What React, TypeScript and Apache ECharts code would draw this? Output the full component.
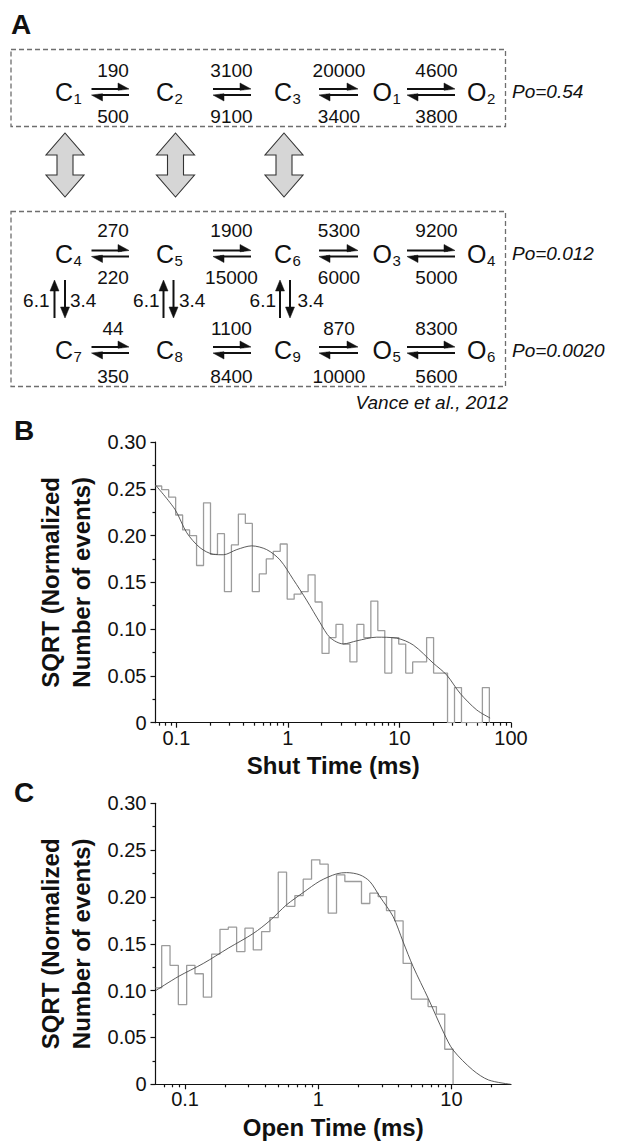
import React, { useEffect, useRef } from 'react';
import * as echarts from 'echarts';

const FONT = '"Liberation Sans", Arial, Helvetica, sans-serif';

// ---------- Panel A: kinetic scheme ----------
const topStates = [['C', '1'], ['C', '2'], ['C', '3'], ['O', '1'], ['O', '2']];
const topFwd = ['190', '3100', '20000', '4600'];
const topBack = ['500', '9100', '3400', '3800'];
const midStates = [['C', '4'], ['C', '5'], ['C', '6'], ['O', '3'], ['O', '4']];
const midFwd = ['270', '1900', '5300', '9200'];
const midBack = ['220', '15000', '6000', '5000'];
const lowStates = [['C', '7'], ['C', '8'], ['C', '9'], ['O', '5'], ['O', '6']];
const lowFwd = ['44', '1100', '870', '8300'];
const lowBack = ['350', '8400', '10000', '5600'];
const vertUp = ['6.1', '6.1', '6.1'];
const vertDown = ['3.4', '3.4', '3.4'];
const poLabels = ['Po=0.54', 'Po=0.012', 'Po=0.0020'];
const citation = 'Vance et al., 2012';

// ---------- Panel B: shut times ----------
const shutRange = [0.065, 100];
const shutTicks = [0.1, 1, 10, 100];
const shutMinor = [0.07, 0.08, 0.09, 0.2, 0.3, 0.4, 0.5, 0.6, 0.7, 0.8, 0.9, 2, 3, 4, 5, 6, 7, 8, 9, 20, 30, 40, 50, 60, 70, 80, 90];
const shutBinStartLog = -1.1315;
const BINS_PER_DECADE = 16;
const shutHeights = [
  0.253, 0.249, 0.241, 0.222, 0.206, 0.2, 0.168, 0.235, 0.18, 0.202,
  0.14, 0.19, 0.223, 0.213, 0.14, 0.159, 0.175, 0.183, 0.191, 0.132,
  0.1375, 0.14, 0.158, 0.129, 0.074, 0.091, 0.105, 0.084, 0.065, 0.105,
  0.091, 0.13, 0.0985, 0.053, 0.091, 0.084, 0.053, 0.065, 0.065, 0.091,
  0.053, 0.053, 0, 0.0375, 0, 0, 0, 0.0375,
];
const shutFit = [
  [0.065, 0.254], [0.0971, 0.228], [0.124, 0.203], [0.163, 0.187], [0.214, 0.18],
  [0.264, 0.1795], [0.348, 0.185], [0.473, 0.189], [0.645, 0.185], [0.849, 0.174],
  [1.118, 0.153], [1.47, 0.131], [1.94, 0.107], [2.385, 0.091], [3.14, 0.0842],
  [4.14, 0.0875], [6.25, 0.0914], [9.46, 0.0903], [13.3, 0.083], [20.1, 0.0636],
  [26.5, 0.051], [34.9, 0.0315], [49.3, 0.0136], [65, 0.005],
];

// ---------- Panel C: open times ----------
const openRange = [0.06, 28];
const openTicks = [0.1, 1, 10];
const openMinor = [0.07, 0.08, 0.09, 0.2, 0.3, 0.4, 0.5, 0.6, 0.7, 0.8, 0.9, 2, 3, 4, 5, 6, 7, 8, 9, 20];
const openBinStartLog = -1.1753;
const openHeights = [
  0.103, 0.148, 0.127, 0.085, 0.127, 0.118, 0.093, 0.139, 0.1655, 0.1677,
  0.1417, 0.1667, 0.1435, 0.163, 0.178, 0.2265, 0.19, 0.2015, 0.219, 0.2396,
  0.235, 0.1827, 0.2236, 0.2165, 0.2165, 0.193, 0.204, 0.2004, 0.1855, 0.1745,
  0.129, 0.091, 0.091, 0.083, 0.075, 0.0374,
];
const openFit = [
  [0.0602, 0.1], [0.0889, 0.115], [0.137, 0.129], [0.211, 0.1453], [0.325, 0.161],
  [0.434, 0.1748], [0.578, 0.1916], [0.771, 0.2047], [1.029, 0.217], [1.373, 0.2247],
  [1.632, 0.226], [2.053, 0.2236], [2.44, 0.2165], [2.9, 0.2004], [3.65, 0.179],
  [4.34, 0.152], [5.16, 0.1256], [6.68, 0.092], [8.79, 0.0545], [10.29, 0.0366],
  [14.45, 0.0153], [19.0, 0.0046], [27.9, 0.0],
];

const yTickValues = [0, 0.05, 0.1, 0.15, 0.2, 0.25, 0.3];

const lg = (v: number) => Math.log10(v);

function histPoints(startLog: number, heights: number[], minLog: number) {
  const pts: number[][] = [];
  heights.forEach((h, i) => {
    const left = i === 0 ? minLog : startLog + (i - 1) / BINS_PER_DECADE;
    const right = startLog + i / BINS_PER_DECADE;
    pts.push([left, h]);
    pts.push([right, h]);
  });
  const last = startLog + (heights.length - 1) / BINS_PER_DECADE;
  pts.push([last, 0]);
  return pts;
}

// ---------- graphic helpers ----------
function txt(text: string, x: number, y: number, o: any = {}) {
  const align = o.align || 'center';
  const va = o.va || 'middle';
  return {
    type: 'text', x, y, silent: true, z: 10,
    style: {
      text, fill: o.color || '#111',
      fontSize: o.size || 19, fontFamily: FONT,
      fontWeight: o.weight || 'normal', fontStyle: o.italic ? 'italic' : 'normal',
      align, verticalAlign: va, textAlign: align, textVerticalAlign: va,
    },
  };
}
const INK = '#111';
function seg(x1: number, y1: number, x2: number, y2: number, w = 2) {
  return { type: 'line', silent: true, z: 10, shape: { x1, y1, x2, y2 }, style: { stroke: INK, lineWidth: w } };
}
function tri(points: number[][]) {
  return { type: 'polygon', silent: true, z: 10, shape: { points }, style: { fill: INK, stroke: INK, lineWidth: 0.5 } };
}

const stateX = [55, 156, 274, 372.5, 467];
const arrowSpans = [[91.5, 129], [213, 251], [319, 358], [407, 455]];
const rateX = [113, 231.5, 339, 436.5];
const letterW: Record<string, number> = { C: 18, O: 19.5 };

function schemeRow(states: string[][], fwd: string[], back: string[], above: number, mid: number, below: number) {
  const els: any[] = [];
  states.forEach(([l, s], i) => {
    els.push(txt(l, stateX[i], mid, { size: 25, align: 'left' }));
    els.push(txt(s, stateX[i] + letterW[l] + 0.5, mid + 6.5, { size: 15, align: 'left' }));
  });
  arrowSpans.forEach(([x1, x2], i) => {
    const yt = mid - 3;
    const yb = mid + 3;
    els.push(seg(x1, yt, x2 - 7, yt));
    els.push(tri([[x2, yt], [x2 - 11, yt - 6], [x2 - 11, yt + 1.3]]));
    els.push(seg(x1 + 7, yb, x2, yb));
    els.push(tri([[x1, yb], [x1 + 11, yb + 6], [x1 + 11, yb - 1.3]]));
    els.push(txt(fwd[i], rateX[i], above));
    els.push(txt(back[i], rateX[i], below));
  });
  return els;
}

function buildGraphic() {
  const els: any[] = [];
  // panel letters
  els.push(txt('A', 11, 24, { size: 28, weight: 'bold', align: 'left' }));
  els.push(txt('B', 14, 430, { size: 28, weight: 'bold', align: 'left' }));
  els.push(txt('C', 14, 792, { size: 28, weight: 'bold', align: 'left' }));
  // dashed boxes
  const dash = { fill: 'none', stroke: '#6e6e6e', lineWidth: 1.3, lineDash: [5, 3] };
  els.push({ type: 'rect', silent: true, shape: { x: 11, y: 49.5, width: 494.5, height: 77 }, style: dash });
  els.push({ type: 'rect', silent: true, shape: { x: 11, y: 211.5, width: 494.5, height: 175 }, style: dash });
  // scheme rows
  els.push(...schemeRow(topStates, topFwd, topBack, 70, 92, 116.5));
  els.push(...schemeRow(midStates, midFwd, midBack, 230, 253.5, 277));
  els.push(...schemeRow(lowStates, lowFwd, lowBack, 328, 350, 376.5));
  // vertical transitions
  const upX = [54.5, 163.5, 280];
  const downX = [65, 173.5, 290];
  const leftTxt = [49.5, 159.5, 276];
  const rightTxt = [70, 179, 297.5];
  upX.forEach((ux, i) => {
    const dx = downX[i];
    els.push(seg(ux, 289, ux, 318));
    els.push(tri([[ux, 280], [ux - 4.5, 291], [ux + 4.5, 291]]));
    els.push(seg(dx, 280, dx, 309));
    els.push(tri([[dx, 318], [dx - 4.5, 307], [dx + 4.5, 307]]));
    els.push(txt(vertUp[i], leftTxt[i], 300.5, { align: 'right' }));
    els.push(txt(vertDown[i], rightTxt[i], 300.5, { align: 'left' }));
  });
  // Po labels
  els.push(txt(poLabels[0], 512, 91, { italic: true, align: 'left' }));
  els.push(txt(poLabels[1], 512, 253.5, { italic: true, align: 'left' }));
  els.push(txt(poLabels[2], 512, 350, { italic: true, align: 'left' }));
  els.push(txt(citation, 508, 402, { italic: true, align: 'right' }));
  // big grey double arrows between the two boxes
  [65, 175.5, 284].forEach((cx) => {
    const t = 133, hb = 155, sb = 175, b = 197, hw = 19, sw = 8;
    els.push({
      type: 'polygon', silent: true, z: 9,
      shape: {
        points: [[cx, t], [cx + hw, hb], [cx + sw, hb], [cx + sw, sb], [cx + hw, sb], [cx, b],
          [cx - hw, sb], [cx - sw, sb], [cx - sw, hb], [cx - hw, hb]],
      },
      style: { fill: '#d6d6d6', stroke: '#333', lineWidth: 1.1 },
    });
  });
  return els;
}

// ---------- axes ----------
const axisLineStyle = { color: '#111', width: 1.2 };
const fmtPow = (v: number) => String(parseFloat(Math.pow(10, v).toPrecision(3)));

function majorX(grid: number, range: number[], ticks: number[], name: string) {
  const vals = ticks.map(lg);
  return {
    type: 'value', gridIndex: grid, position: 'bottom', min: lg(range[0]), max: lg(range[1]),
    axisLine: { show: true, onZero: false, lineStyle: axisLineStyle },
    axisTick: { show: true, customValues: vals, length: 5, lineStyle: axisLineStyle },
    axisLabel: { show: true, customValues: vals, formatter: fmtPow, fontSize: 20, color: '#111', fontFamily: FONT, margin: 5 },
    splitLine: { show: false },
    name, nameLocation: 'middle', nameGap: 31,
    nameTextStyle: { fontSize: 24, fontWeight: 'bold', fontFamily: FONT, color: '#111' },
  };
}
function minorX(grid: number, range: number[], minor: number[]) {
  return {
    type: 'value', gridIndex: grid, position: 'bottom', offset: 0, min: lg(range[0]), max: lg(range[1]),
    axisLine: { show: false, onZero: false },
    axisTick: { show: true, customValues: minor.map(lg), length: 3, lineStyle: axisLineStyle },
    axisLabel: { show: false },
    splitLine: { show: false },
  };
}
function yAx(grid: number) {
  return {
    type: 'value', gridIndex: grid, position: 'left', min: 0, max: 0.3, interval: 0.05,
    axisLine: { show: true, onZero: false, lineStyle: axisLineStyle },
    axisTick: { show: true, length: 5, lineStyle: axisLineStyle },
    minorTick: { show: true, splitNumber: 2, length: 3, lineStyle: axisLineStyle },
    axisLabel: {
      formatter: (v: number) => (v === 0 ? '0' : v.toFixed(2)),
      fontSize: 20, color: '#111', fontFamily: FONT, margin: 9,
      customValues: yTickValues,
    },
    splitLine: { show: false }, minorSplitLine: { show: false },
    name: 'SQRT (Normalized\nNumber of events)', nameLocation: 'middle', nameRotate: 90, nameGap: 57,
    nameTextStyle: { fontSize: 24, fontWeight: 'bold', fontFamily: FONT, color: '#111', lineHeight: 31 },
  };
}

function buildOption() {
  const histStyle = { color: '#9c9c9c', width: 1.3 };
  const fitStyle = { color: '#4a4a4a', width: 0.9 };
  return {
    animation: false,
    backgroundColor: '#ffffff',
    grid: [
      { left: 155.5, top: 442, width: 355.5, height: 280.7, containLabel: false },
      { left: 155.5, top: 803.3, width: 355.5, height: 281, containLabel: false },
    ],
    xAxis: [
      majorX(0, shutRange, shutTicks, 'Shut Time (ms)'),
      minorX(0, shutRange, shutMinor),
      majorX(1, openRange, openTicks, 'Open Time (ms)'),
      minorX(1, openRange, openMinor),
    ],
    yAxis: [yAx(0), yAx(1)],
    series: [
      {
        type: 'line', xAxisIndex: 0, yAxisIndex: 0, symbol: 'none', z: 2,
        data: histPoints(shutBinStartLog, shutHeights, lg(shutRange[0])), lineStyle: histStyle,
      },
      {
        type: 'line', xAxisIndex: 0, yAxisIndex: 0, symbol: 'none', z: 3, smooth: 0.3,
        data: shutFit.map(([x, y]) => [lg(x), y]), lineStyle: fitStyle,
      },
      {
        type: 'line', xAxisIndex: 2, yAxisIndex: 1, symbol: 'none', z: 2,
        data: histPoints(openBinStartLog, openHeights, lg(openRange[0])), lineStyle: histStyle,
      },
      {
        type: 'line', xAxisIndex: 2, yAxisIndex: 1, symbol: 'none', z: 3, smooth: 0.3,
        data: openFit.map(([x, y]) => [lg(x), y]), lineStyle: fitStyle,
      },
    ],
    graphic: { elements: buildGraphic() },
  };
}

export default function App() {
  const ref = useRef<HTMLDivElement>(null);
  useEffect(() => {
    document.body.style.margin = '0';
    const chart = echarts.init(ref.current as HTMLDivElement, undefined, { renderer: 'svg', width: 618, height: 1144 });
    chart.setOption(buildOption() as any);
    return () => chart.dispose();
  }, []);
  return <div ref={ref} style={{ width: 618, height: 1144 }} />;
}
